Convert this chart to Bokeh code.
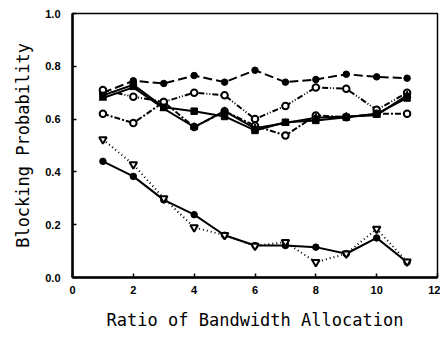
from bokeh.plotting import figure
from bokeh.embed import file_html
from bokeh.resources import INLINE
from bokeh.models import FixedTicker, PrintfTickFormatter, Range1d

ratio = [1, 2, 3, 4, 5, 6, 7, 8, 9, 10, 11]
s_a = [0.70, 0.745, 0.735, 0.765, 0.74, 0.785, 0.74, 0.75, 0.77, 0.76, 0.755]
s_b = [0.71, 0.685, 0.665, 0.70, 0.69, 0.60, 0.65, 0.72, 0.715, 0.635, 0.70]
s_c = [0.62, 0.585, 0.665, 0.57, 0.63, 0.575, 0.538, 0.614, 0.607, 0.62, 0.62]
s_d = [0.69, 0.73, 0.645, 0.63, 0.61, 0.557, 0.588, 0.595, 0.607, 0.62, 0.68]
s_e = [0.68, 0.72, 0.64, 0.57, 0.63, 0.565, 0.585, 0.605, 0.61, 0.615, 0.69]
s_f = [0.44, 0.383, 0.294, 0.238, 0.16, 0.121, 0.121, 0.115, 0.09, 0.15, 0.058]
s_g = [0.523, 0.428, 0.30, 0.19, 0.16, 0.12, 0.134, 0.058, 0.09, 0.184, 0.06]
x_ticks = [0, 2, 4, 6, 8, 10, 12]
y_ticks = [0.0, 0.2, 0.4, 0.6, 0.8, 1.0]

p = figure(width=440, height=335, output_backend="svg", toolbar_location=None,
           x_range=Range1d(0, 12), y_range=Range1d(0, 1.0),
           min_border_left=72, min_border_right=3, min_border_top=13, min_border_bottom=58)
p.grid.visible = False
p.outline_line_color = "black"
p.outline_line_width = 1.5
p.background_fill_color = "white"
p.border_fill_color = "white"

for ax in (p.xaxis[0], p.yaxis[0]):
    ax.axis_line_width = 2.5
    ax.axis_line_color = "black"
    ax.major_tick_in = 4
    ax.major_tick_out = 0
    ax.major_tick_line_width = 1.5
    ax.minor_tick_line_color = None
    ax.major_label_text_font = "Liberation Sans"
    ax.major_label_text_font_style = "bold"
    ax.major_label_text_font_size = "11px"
    ax.major_label_text_color = "black"
    ax.axis_label_text_font = "DejaVu Sans Mono"
    ax.axis_label_text_font_style = "normal"
    ax.axis_label_text_font_size = "17px"
    ax.axis_label_text_color = "black"

p.xaxis.ticker = FixedTicker(ticks=x_ticks)
p.yaxis.ticker = FixedTicker(ticks=y_ticks)
p.yaxis.formatter = PrintfTickFormatter(format="%.1f")
p.xaxis.axis_label = "Ratio of Bandwidth Allocation"
p.yaxis.axis_label = "Blocking Probability"
p.xaxis.major_label_standoff = 8
p.yaxis.major_label_standoff = 12
p.xaxis.axis_label_standoff = 13
p.yaxis.axis_label_standoff = 9

lw = 2
ms = 6.5
# top group
p.line(ratio, s_a, line_color="black", line_width=lw, line_dash="9 4")
p.scatter(ratio, s_a, marker="circle", size=ms, color="black")

p.line(ratio, s_b, line_color="black", line_width=lw, line_dash="6 2 1 2 1 2")
p.scatter(ratio, s_b, marker="circle", size=ms, line_color="black", line_width=2, fill_color="white")

p.line(ratio, s_c, line_color="black", line_width=lw, line_dash="6 2 2 2")
p.scatter(ratio, s_c, marker="circle", size=ms, line_color="black", line_width=2, fill_color="white")

p.line(ratio, s_d, line_color="black", line_width=lw)
p.scatter(ratio, s_d, marker="square", size=ms, color="black")

p.line(ratio, s_e, line_color="black", line_width=lw)
p.scatter(ratio, s_e, marker="triangle", size=ms + 1, color="black")

# bottom group
p.line(ratio, s_f, line_color="black", line_width=lw)
p.scatter(ratio, s_f, marker="circle", size=ms, color="black")

p.line(ratio, s_g, line_color="black", line_width=lw, line_dash="1 3")
p.scatter(ratio, s_g, marker="inverted_triangle", size=ms + 1, line_color="black", line_width=2, fill_color="white")

open("out.html", "w").write(file_html(p, INLINE))
